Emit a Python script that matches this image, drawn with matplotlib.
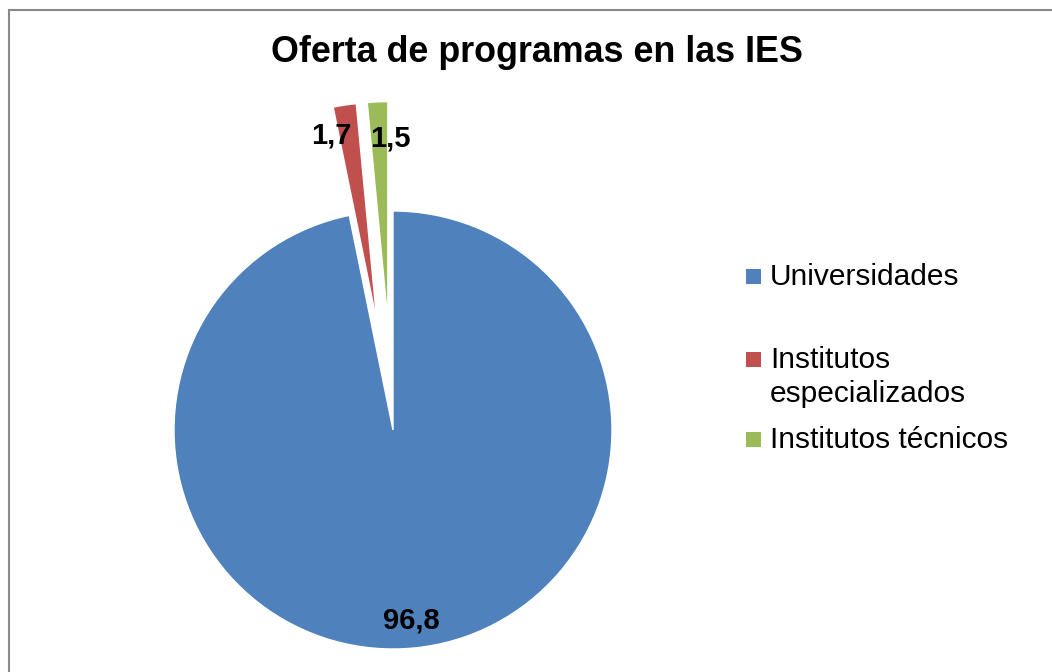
import matplotlib.pyplot as plt
from matplotlib.patches import Rectangle

# Data
categories = ["Universidades", "Institutos\nespecializados", "Institutos técnicos"]
values = [96.8, 1.7, 1.5]
colors = ["#4F81BD", "#C0504D", "#9BBB59"]
explode = [0.0, 0.5, 0.5]

plt.rcParams['font.family'] = ['Liberation Sans', 'DejaVu Sans']

fig = plt.figure(figsize=(10.52, 6.72), dpi=100)

# pie centered at (393, 430) px, radius 219 px
r_px = 219
lim = 1.6
side = 2 * lim * r_px
ax = fig.add_axes([(393 - side / 2) / 1052, (672 - 430 - side / 2) / 672,
                   side / 1052, side / 672])

wedges, _ = ax.pie(values, colors=colors, explode=explode, startangle=90,
                   counterclock=False,
                   wedgeprops=dict(edgecolor='white', linewidth=1))
ax.set_xlim(-lim, lim)
ax.set_ylim(-lim, lim)
ax.axis('off')

# data labels
label_pos = [(0.084, -0.872), (-0.283, 1.347), (-0.014, 1.329)]
for v, (x, y) in zip(values, label_pos):
    ax.text(x, y, f"{v:.1f}".replace('.', ','), ha='center', va='center',
            fontsize=21, fontweight='bold', color='black')

# title
fig.text(537 / 1052, 1 - 52 / 672, "Oferta de programas en las IES",
         ha='center', va='center', fontsize=25.8, fontweight='bold')

# legend
baselines = [285, 368, 448]
for lab, col, yb in zip(categories, colors, baselines):
    fig.patches.append(Rectangle((746 / 1052, 1 - (yb - 1) / 672), 15 / 1052, 15 / 672,
                                 transform=fig.transFigure, facecolor=col,
                                 edgecolor='none'))
    for i, line in enumerate(lab.split('\n')):
        fig.text(770 / 1052, 1 - (yb + i * 34) / 672, line, ha='left',
                 va='baseline', fontsize=21.5)

# outer frame
fig.patches.append(Rectangle((8.5 / 1052, -0.1), 1.2, 1 - 9.5 / 672 + 0.1,
                             transform=fig.transFigure, facecolor='none',
                             edgecolor='#898989', linewidth=1.5))

fig.savefig("out.png", dpi=100)
